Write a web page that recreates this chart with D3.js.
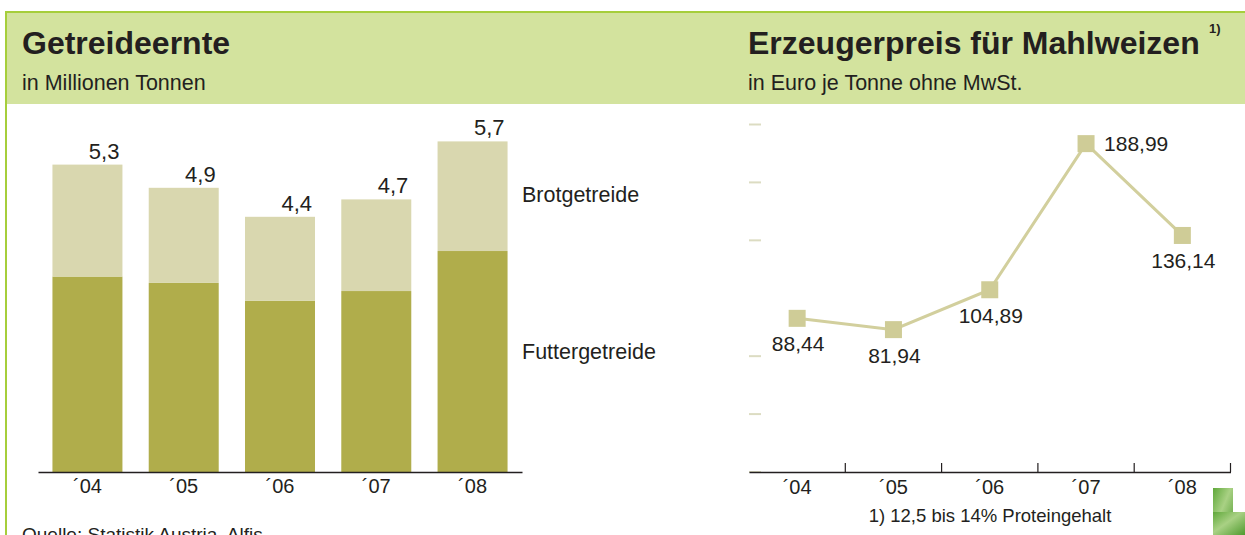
<!DOCTYPE html>
<html>
<head>
<meta charset="utf-8">
<script src="https://cdn.jsdelivr.net/npm/d3@7"></script>
<style>
  body { margin: 0; background: #fff; }
  svg { display: block; }
  text { font-family: "Liberation Sans", Arial, sans-serif; fill: #231f20; }
</style>
</head>
<body>
<div id="chart"></div>
<script>
// Data
var years = ["´04", "´05", "´06", "´07", "´08"];
var futter = [3.37, 3.26, 2.95, 3.12, 3.81];   // Futtergetreide, Mio t
var brot = [1.93, 1.64, 1.45, 1.58, 1.89];     // Brotgetreide, Mio t
var totals = [5.3, 4.9, 4.4, 4.7, 5.7];        // labels above bars
var prices = [88.44, 81.94, 104.89, 188.99, 136.14]; // Euro je Tonne
var priceTicks = [0, 33.33, 66.67, 133.33, 166.67, 200];

var svgWidth = 1245;
var svgHeight = 535;

var de = d3.formatLocale({ decimal: ",", thousands: ".", grouping: [3], currency: ["", " €"] });
var fmt1 = de.format(".1f");
var fmt2 = de.format(".2f");

var svg = d3.select("#chart")
    .append("svg")
    .attr("width", svgWidth)
    .attr("height", svgHeight);

// header band + green frame
svg.append("rect").attr("x", 6).attr("y", 12).attr("width", svgWidth - 6).attr("height", 92).attr("fill", "#d3e39e");
svg.append("rect").attr("x", 5).attr("y", 11).attr("width", svgWidth - 5).attr("height", 2).attr("fill", "#a6ce3b");
svg.append("rect").attr("x", 5).attr("y", 11).attr("width", 2).attr("height", svgHeight - 11).attr("fill", "#a6ce3b");

// titles
svg.append("text").attr("x", 22).attr("y", 54).attr("font-size", 32).attr("font-weight", "bold").text("Getreideernte");
svg.append("text").attr("x", 22).attr("y", 90).attr("font-size", 21.5).text("in Millionen Tonnen");
svg.append("text").attr("x", 748).attr("y", 54).attr("font-size", 32).attr("font-weight", "bold").text("Erzeugerpreis für Mahlweizen");
svg.append("text").attr("x", 1209).attr("y", 33).attr("font-size", 13).attr("font-weight", "bold").text("1)");
svg.append("text").attr("x", 748).attr("y", 90).attr("font-size", 21.5).text("in Euro je Tonne ohne MwSt.");

// ---------------- left chart: stacked bars ----------------
var xBar = d3.scaleBand()
    .domain(years)
    .range([38, 522])
    .paddingInner(0.273)
    .paddingOuter(0.15);

var yBar = d3.scaleLinear()
    .domain([0, 6])
    .range([472, 472 - 6 * 58]);

var left = svg.append("g");

left.selectAll(".futter")
    .data(years)
    .enter()
    .append("rect")
    .attr("class", "futter")
    .attr("x", d => xBar(d))
    .attr("width", xBar.bandwidth())
    .attr("y", (d, i) => yBar(futter[i]))
    .attr("height", (d, i) => yBar(0) - yBar(futter[i]))
    .attr("fill", "#b0ad4b");

left.selectAll(".brot")
    .data(years)
    .enter()
    .append("rect")
    .attr("class", "brot")
    .attr("x", d => xBar(d))
    .attr("width", xBar.bandwidth())
    .attr("y", (d, i) => yBar(futter[i] + brot[i]))
    .attr("height", (d, i) => yBar(futter[i]) - yBar(futter[i] + brot[i]))
    .attr("fill", "#d9d7af");

left.selectAll(".total")
    .data(years)
    .enter()
    .append("text")
    .attr("class", "total")
    .attr("x", d => xBar(d) + xBar.bandwidth() - 3)
    .attr("y", (d, i) => yBar(futter[i] + brot[i]) - 6)
    .attr("text-anchor", "end")
    .attr("font-size", 22)
    .text((d, i) => fmt1(totals[i]));

var bottomAxis = d3.axisBottom(xBar).tickSize(0).tickPadding(7);
var gx = left.append("g")
    .attr("transform", "translate(0, 472)")
    .call(bottomAxis);
gx.select(".domain").attr("stroke", "#231f20").attr("stroke-width", 1.5);
gx.selectAll("text").attr("font-size", 20).attr("font-family", "Liberation Sans, Arial, sans-serif").attr("fill", "#231f20");

// legend labels
var legendFont = "'Open Sans', 'Noto Sans', sans-serif";
left.append("text").attr("x", 522).attr("y", 202).attr("font-size", 21.5).attr("font-family", legendFont)
    .text("Brotgetreide");
left.append("text").attr("x", 522).attr("y", 359).attr("font-size", 21.5).attr("font-family", legendFont)
    .text("Futtergetreide");

left.append("text").attr("x", 22).attr("y", 541).attr("font-size", 19).text("Quelle: Statistik Austria, Alfis");

// ---------------- right chart: price line ----------------
var xLine = d3.scaleBand()
    .domain(years)
    .range([749, 1230.5])
    .padding(0);

var yLine = d3.scaleLinear()
    .domain([0, 200])
    .range([472, 124.5]);

var right = svg.append("g");

// short beige marks on the left instead of grid
right.selectAll(".ytick")
    .data(priceTicks)
    .enter()
    .append("line")
    .attr("class", "ytick")
    .attr("x1", 749).attr("x2", 761)
    .attr("y1", d => yLine(d)).attr("y2", d => yLine(d))
    .attr("stroke", "#dcdcc2")
    .attr("stroke-width", 2);

var priceAxis = d3.axisBottom(xLine).tickSize(0).tickSizeOuter(0).tickPadding(8);
var gx2 = right.append("g")
    .attr("transform", "translate(0, 472)")
    .call(priceAxis);
gx2.select(".domain").attr("stroke", "#231f20").attr("stroke-width", 1.5);
gx2.selectAll("text").attr("font-size", 20).attr("font-family", "Liberation Sans, Arial, sans-serif").attr("fill", "#231f20");

// separators between years
right.selectAll(".sep")
    .data(years)
    .enter()
    .append("line")
    .attr("class", "sep")
    .attr("x1", d => xLine(d) + xLine.step()).attr("x2", d => xLine(d) + xLine.step())
    .attr("y1", 463).attr("y2", 472)
    .attr("stroke", "#231f20")
    .attr("stroke-width", 1.2);

var cx = d => xLine(d) + xLine.bandwidth() / 2;

var line = d3.line()
    .x(d => cx(d))
    .y((d, i) => yLine(prices[i]));

right.append("path")
    .datum(years)
    .attr("d", line)
    .attr("fill", "none")
    .attr("stroke", "#d2cf9d")
    .attr("stroke-width", 3);

right.selectAll(".marker")
    .data(years)
    .enter()
    .append("rect")
    .attr("class", "marker")
    .attr("x", d => cx(d) - 8.5)
    .attr("y", (d, i) => yLine(prices[i]) - 8.5)
    .attr("width", 17)
    .attr("height", 17)
    .attr("fill", "#cfcc97");

var maxPrice = d3.max(prices);
right.selectAll(".plabel")
    .data(years)
    .enter()
    .append("text")
    .attr("class", "plabel")
    .attr("x", (d, i) => prices[i] === maxPrice ? cx(d) + 18 : cx(d) + 1)
    .attr("y", (d, i) => yLine(prices[i]) + (prices[i] === maxPrice ? 7 : 33))
    .attr("text-anchor", (d, i) => prices[i] === maxPrice ? "start" : "middle")
    .attr("font-size", 21)
    .text((d, i) => fmt2(prices[i]));

right.append("text").attr("x", 990).attr("y", 522).attr("text-anchor", "middle").attr("font-size", 18.5)
    .text("1) 12,5 bis 14% Proteingehalt");

// small green photo corner at bottom right
var defs = svg.append("defs");
var grad = defs.append("linearGradient").attr("id", "leaf").attr("x1", 0).attr("y1", 0).attr("x2", 1).attr("y2", 1);
grad.append("stop").attr("offset", "0%").attr("stop-color", "#5fa83a");
grad.append("stop").attr("offset", "45%").attr("stop-color", "#a9d184");
grad.append("stop").attr("offset", "100%").attr("stop-color", "#4e9a2e");
svg.append("rect").attr("x", 1213).attr("y", 488).attr("width", 20).attr("height", 47).attr("fill", "url(#leaf)");
svg.append("rect").attr("x", 1213).attr("y", 512).attr("width", 32).attr("height", 23).attr("fill", "url(#leaf)");
</script>
</body>
</html>
